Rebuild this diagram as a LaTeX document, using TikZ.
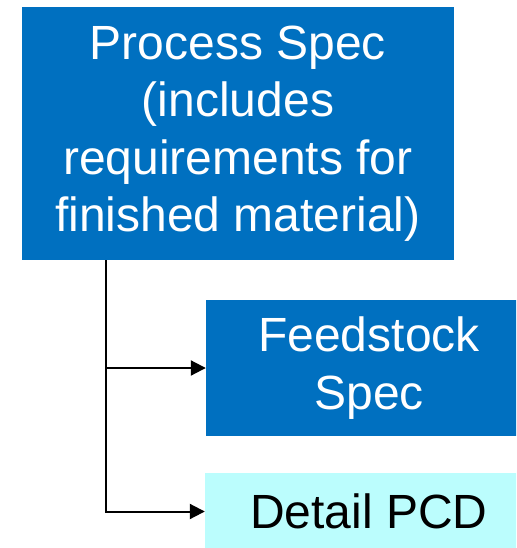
\documentclass[tikz,border=0pt]{standalone}
\usepackage{fontspec}
\setmainfont{Liberation Sans}
\usetikzlibrary{arrows.meta}
\definecolor{specblue}{HTML}{0070C0}
\definecolor{pcdcyan}{HTML}{BBFDFD}
\begin{document}
\begin{tikzpicture}[x=1pt, y=-1pt,
        specbox/.style={rectangle, fill=specblue, text=white, align=center, inner sep=0pt, font=\fontsize{48}{57.5}\selectfont},
        pcdbox/.style={specbox, fill=pcdcyan, text=black},
        link/.style={draw, line width=2pt, -{Triangle[length=15pt, width=15pt]}}]
    \clip (0,0) rectangle (516,548);
    \node[specbox, minimum width=432pt, minimum height=253pt] (process) at (238,133.5) {
        Process Spec\\
        (includes\\
        requirements for\\
        finished material)
    };
    \node[specbox, minimum width=326pt, minimum height=136pt] (feed) at (369,368) {Feedstock\\Spec};
    \node[pcdbox, minimum width=328pt, minimum height=77pt] (detail) at (369,511.5) {Detail PCD};
    \coordinate (trunk) at ([xshift=-132pt]process.south);
    \draw[link] (trunk) |- (feed.west);
    \draw[link] (trunk) |- (detail.west);
\end{tikzpicture}
\end{document}
